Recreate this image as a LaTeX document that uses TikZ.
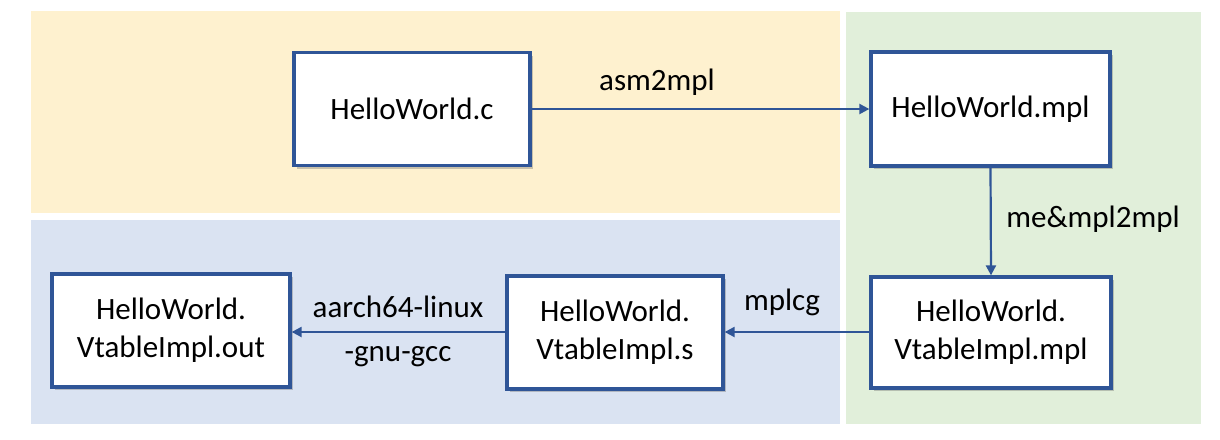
\documentclass[tikz,border=0pt]{standalone}
\usepackage{fontspec}
\setmainfont{Carlito}
\usetikzlibrary{arrows.meta,shadows}
\definecolor{bYellow}{HTML}{FEF1CF}
\definecolor{bBlue}{HTML}{DAE3F2}
\definecolor{bGreen}{HTML}{E1EFDA}
\definecolor{edgeBlue}{HTML}{2F5597}
\tikzset{
  filebox/.style={draw=edgeBlue, line width=3.3pt, fill=white, align=center,
    font=\fontsize{31}{38}\selectfont, inner sep=0pt,
    drop shadow={shadow xshift=3pt, shadow yshift=-3pt, opacity=0.35, fill=black!60}},
  flow/.style={draw=edgeBlue, line width=2.2pt, -{Triangle[length=10pt,width=10pt]}},
  lbl/.style={font=\fontsize{31}{38}\selectfont, inner sep=0pt}
}
\begin{document}
\begin{tikzpicture}[x=1pt,y=-1pt]
\useasboundingbox (0,0) rectangle (1220,439);
\fill[bYellow] (31,11) rectangle (840,213);
\fill[bBlue] (31,220) rectangle (840,424);
\fill[bGreen] (846,12) rectangle (1201,424);
\node[filebox, minimum width=236pt, minimum height=113pt] (c) at (412,109) {HelloWorld.c};
\node[filebox, minimum width=239pt, minimum height=114pt] (mpl) at (990.5,109) {HelloWorld.mpl};
\node[filebox, minimum width=240pt, minimum height=111pt] (vmpl) at (991,332.5) {HelloWorld.\\VtableImpl.mpl};
\node[filebox, minimum width=216pt, minimum height=113pt] (vs) at (615,332.5) {HelloWorld.\\VtableImpl.s};
\node[filebox, minimum width=238pt, minimum height=113pt] (vout) at (171,330.5) {HelloWorld.\\VtableImpl.out};
\draw[flow] (c.east) -- (mpl.west);
\draw[flow] (mpl.south) -- (vmpl.north);
\draw[flow] (vmpl.west |- 0,332) -- (vs.east |- 0,332);
\draw[flow] (vs.west |- 0,332) -- (vout.east |- 0,332);
\node[lbl] (l1) at (657,82) {asm2mpl};
\node[lbl] (l2) at (1093,219) {me\&mpl2mpl};
\node[lbl] (l3) at (782,302) {mplcg};
\node[lbl] (l4) at (398,307) {aarch64-linux};
\node[lbl] (l5) at (398,357) {-gnu-gcc};
\end{tikzpicture}
\end{document}
